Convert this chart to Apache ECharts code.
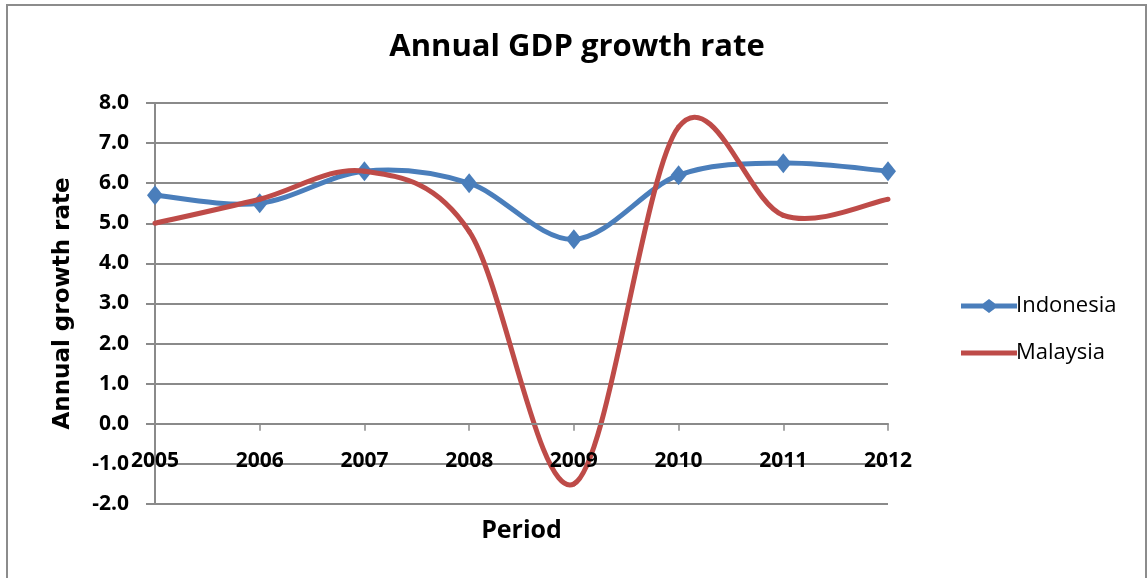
<!DOCTYPE html>
<html>
<head>
<meta charset="utf-8">
<title>Annual GDP growth rate</title>
<script src="https://cdn.jsdelivr.net/npm/echarts@6/dist/echarts.min.js"></script>
<style>
  html, body { margin: 0; padding: 0; background: #fff; }
  #chart { width: 1148px; height: 578px; }
</style>
</head>
<body>
<div id="chart"></div>
<script>
// Annual GDP growth rate (%) by year
const years = ['2005', '2006', '2007', '2008', '2009', '2010', '2011', '2012'];
const indonesia = [5.7, 5.5, 6.3, 6.0, 4.6, 6.2, 6.5, 6.3];
const malaysia = [5.0, 5.6, 6.3, 4.8, -1.5, 7.4, 5.2, 5.6];
const yTicks = { min: -2, max: 8, interval: 1 };

const BLUE = '#4a7ebb';
const RED = '#be4b48';
const GRID = '#8a8a8a';
const uiFont = '"Open Sans", Lato, sans-serif';

// Smoothed line drawn segment by segment as cubic Beziers through the
// axis-mapped data points (Catmull-Rom style tangents, 1/6 of the chord
// between the neighbouring points).
function smoothSegment(values, color) {
  return function (params, api) {
    const i = params.dataIndex;
    const n = values.length;
    if (i >= n - 1) return null;
    const pt = k => {
      const j = Math.max(0, Math.min(n - 1, k));
      return api.coord([j, values[j]]);
    };
    const p0 = pt(i - 1), p1 = pt(i), p2 = pt(i + 1), p3 = pt(i + 2);
    return {
      type: 'bezierCurve',
      shape: {
        x1: p1[0], y1: p1[1],
        cpx1: p1[0] + (p2[0] - p0[0]) / 6, cpy1: p1[1] + (p2[1] - p0[1]) / 6,
        cpx2: p2[0] - (p3[0] - p1[0]) / 6, cpy2: p2[1] - (p3[1] - p1[1]) / 6,
        x2: p2[0], y2: p2[1]
      },
      style: { stroke: color, lineWidth: 5, fill: null, lineCap: 'round' },
      silent: true
    };
  };
}

const pairs = values => years.map((y, i) => [y, values[i]]);

const chart = echarts.init(document.getElementById('chart'), null, { renderer: 'canvas' });

const option = {
  backgroundColor: '#ffffff',
  animation: false,
  graphic: [{
    type: 'rect',
    shape: { x: 7, y: 5, width: 1139, height: 620 },
    style: { fill: 'none', stroke: '#8c8c8c', lineWidth: 2 },
    silent: true
  }],
  title: {
    text: 'Annual GDP growth rate',
    left: 572,
    top: 27,
    textAlign: 'center',
    textStyle: { fontFamily: uiFont, fontWeight: 'bold', fontSize: 31, color: '#000' }
  },
  legend: {
    orient: 'vertical',
    left: 956,
    top: 290,
    itemWidth: 56,
    itemHeight: 14,
    itemGap: 25,
    textStyle: { fontFamily: uiFont, fontSize: 22, color: '#000', padding: [0, 0, 0, -6] },
    data: [
      { name: 'Indonesia', icon: 'path://M0,4.5 L22,4.5 L28,0 L34,4.5 L56,4.5 L56,9.5 L34,9.5 L28,14 L22,9.5 L0,9.5 Z' },
      { name: 'Malaysia', icon: 'path://M0,4.5 L56,4.5 L56,9.5 L0,9.5 Z' }
    ]
  },
  grid: { left: 155, right: 260, top: 103, bottom: 74, containLabel: false, outerBoundsMode: 'none' },
  xAxis: {
    type: 'category',
    data: years,
    boundaryGap: false,
    z: 6,
    name: 'Period',
    nameLocation: 'middle',
    nameGap: 95,
    nameTextStyle: { fontFamily: uiFont, fontWeight: 'bold', fontSize: 25, color: '#000' },
    axisLine: { onZero: false, lineStyle: { color: GRID, width: 2 } },
    axisTick: { show: true, alignWithLabel: true, length: 7, lineStyle: { color: GRID, width: 1.5 } },
    axisLabel: { margin: 27, fontFamily: uiFont, fontWeight: 'bold', fontSize: 21, color: '#000' },
    splitLine: { show: false }
  },
  yAxis: {
    type: 'value',
    min: yTicks.min,
    max: yTicks.max,
    interval: yTicks.interval,
    name: 'Annual growth rate',
    nameLocation: 'middle',
    nameGap: 80,
    nameRotate: 90,
    nameTextStyle: { fontFamily: '"DejaVu Sans", sans-serif', fontWeight: 'bold', fontSize: 23, color: '#000' },
    axisLine: { show: true, lineStyle: { color: GRID, width: 2 } },
    axisTick: { show: true, length: 9, inside: false, lineStyle: { color: GRID, width: 2 } },
    axisLabel: {
      margin: 26,
      fontFamily: uiFont, fontWeight: 'bold', fontSize: 21, color: '#000',
      formatter: v => v.toFixed(1)
    },
    splitLine: { show: true, lineStyle: { color: GRID, width: 2 } }
  },
  series: [
    {
      name: 'Indonesia',
      type: 'custom',
      data: pairs(indonesia),
      encode: { x: 0, y: 1 },
      renderItem: smoothSegment(indonesia, BLUE),
      itemStyle: { color: BLUE },
      z: 2
    },
    {
      name: 'Indonesia',
      type: 'scatter',
      data: pairs(indonesia),
      symbol: 'diamond',
      symbolSize: [16, 20],
      itemStyle: { color: BLUE, opacity: 1 },
      z: 3
    },
    {
      name: 'Malaysia',
      type: 'custom',
      data: pairs(malaysia),
      encode: { x: 0, y: 1 },
      renderItem: smoothSegment(malaysia, RED),
      itemStyle: { color: RED },
      z: 4
    }
  ]
};

chart.setOption(option);

// The category axis sits on the zero line: shift it (labels, ticks and name
// included) up from the bottom of the grid by the scale's own distance.
const zeroPx = chart.convertToPixel({ yAxisIndex: 0 }, 0);
const minPx = chart.convertToPixel({ yAxisIndex: 0 }, yTicks.min);
chart.setOption({ xAxis: { offset: -(minPx - zeroPx) } });
</script>
</body>
</html>
